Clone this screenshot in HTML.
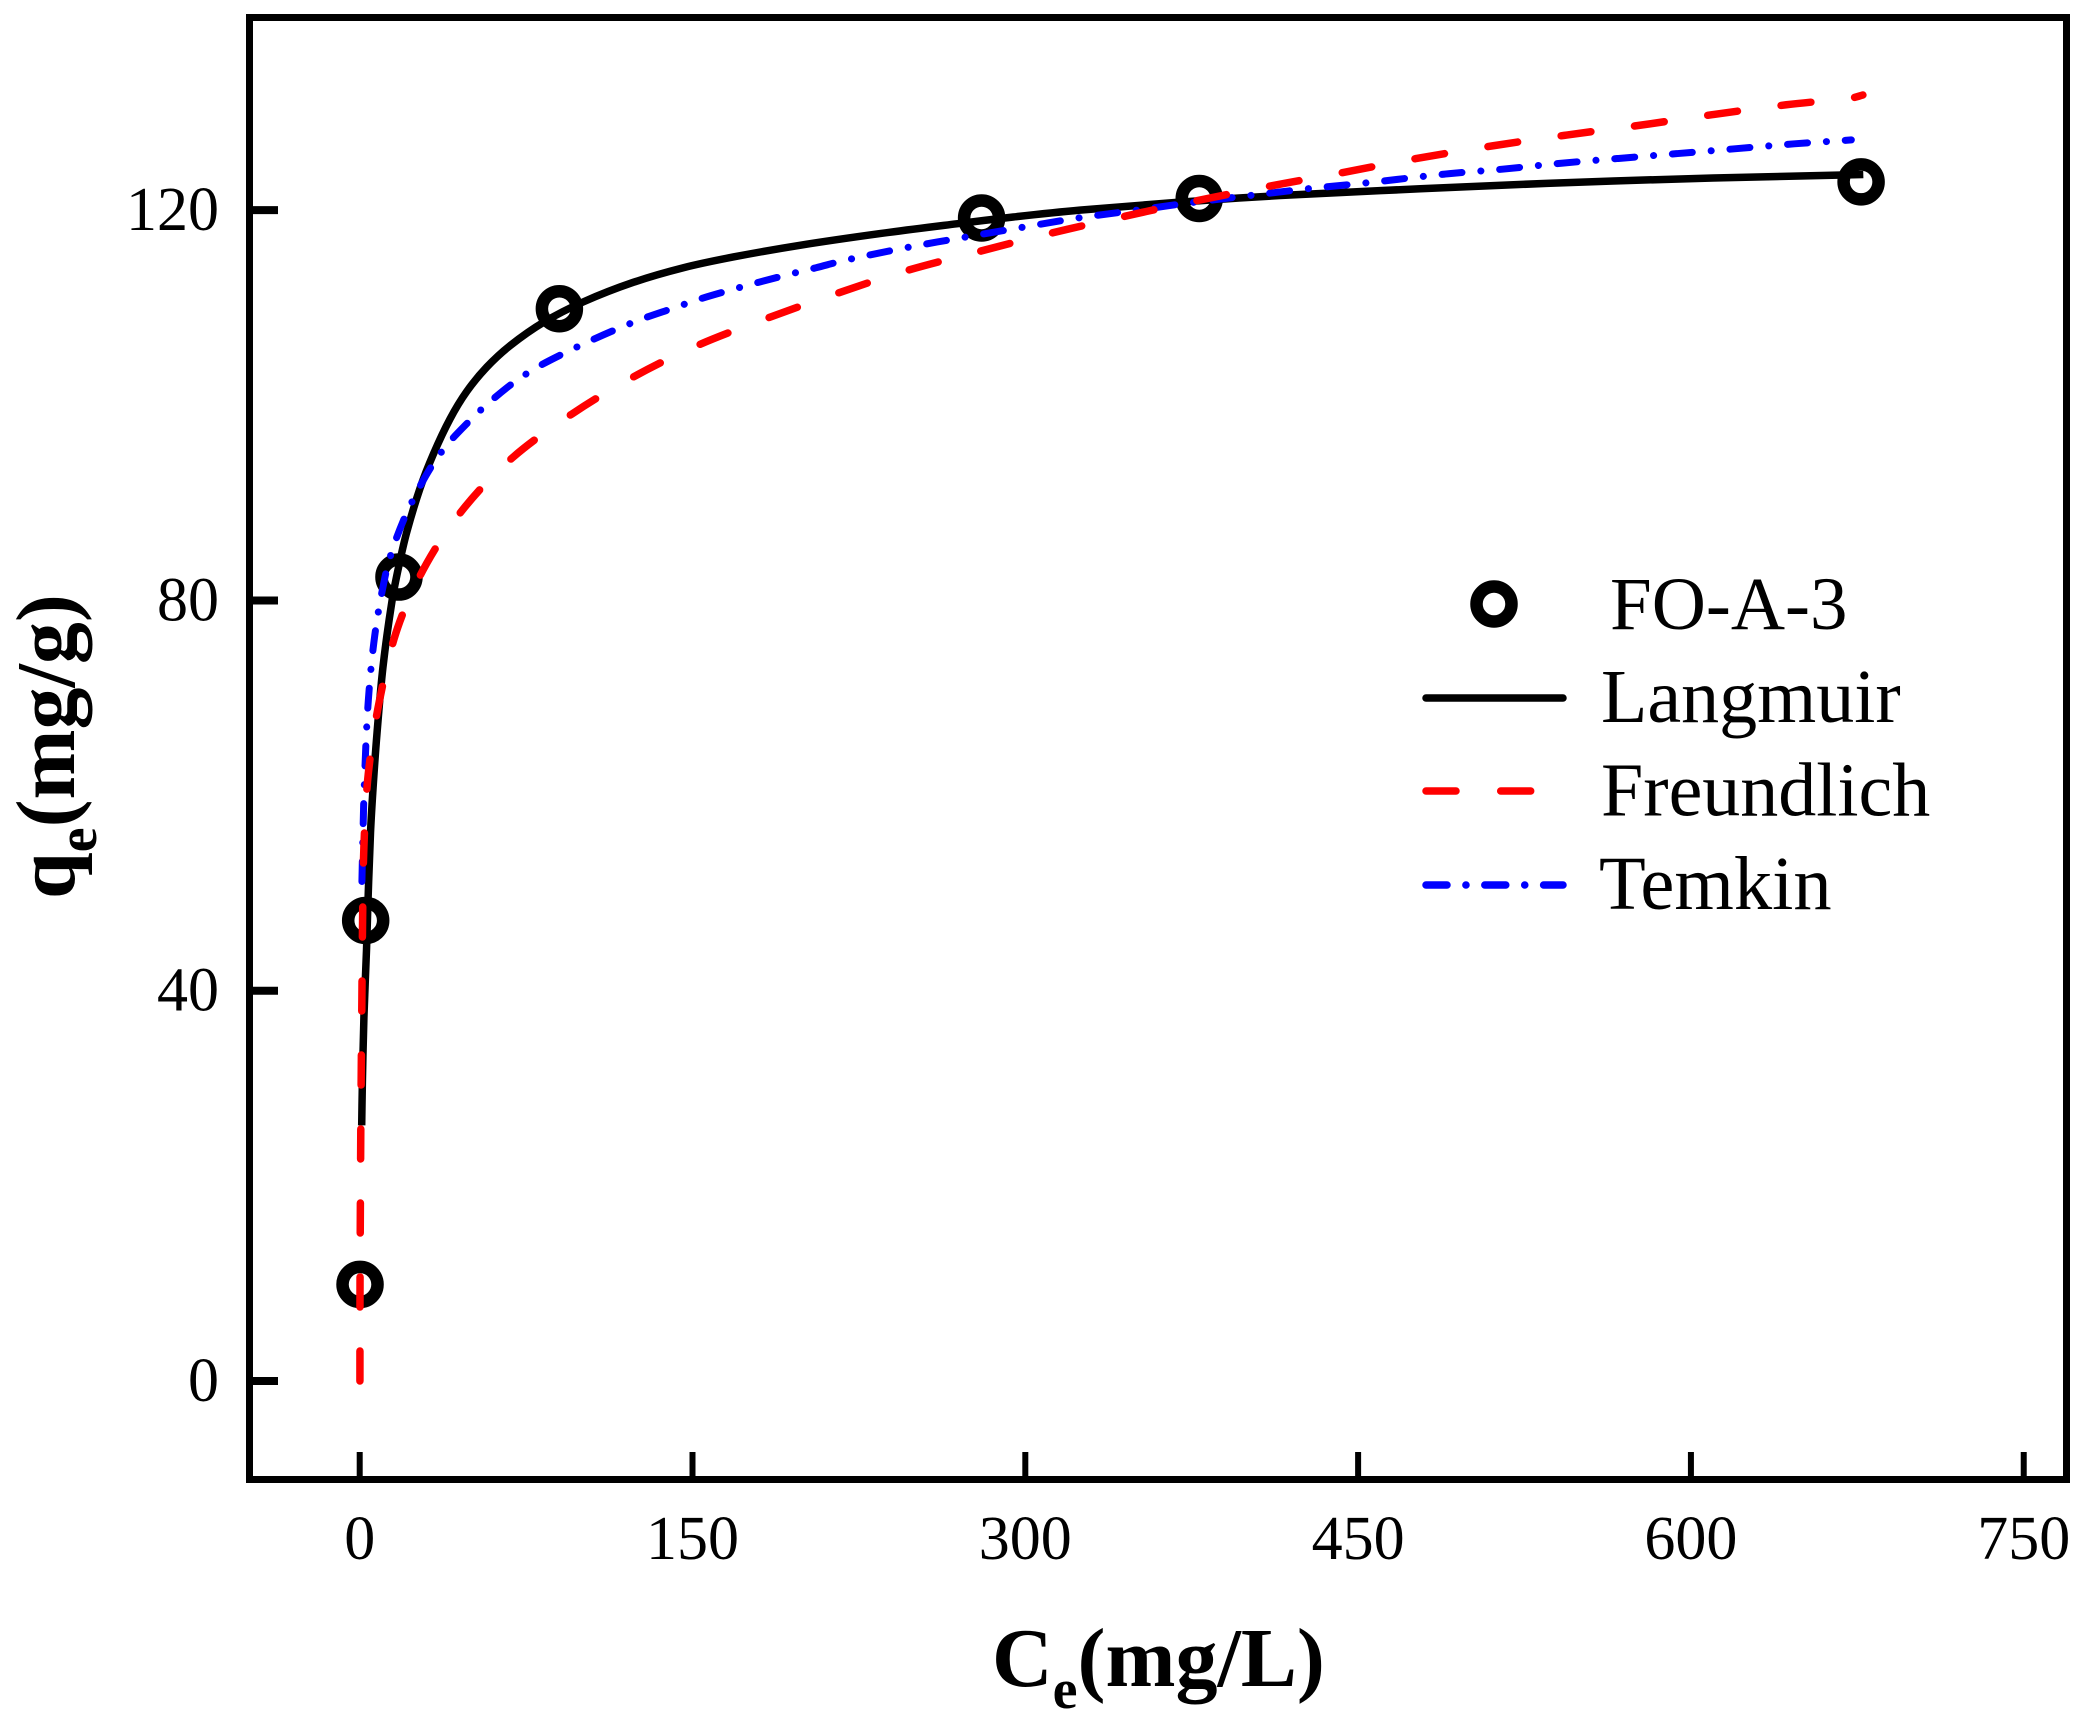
<!DOCTYPE html>
<html lang="en">
<head>
<meta charset="utf-8">
<title>FO-A-3 adsorption isotherm</title>
<style>
  html, body { margin: 0; padding: 0; background: #fff; }
  body { width: 2088px; height: 1726px; overflow: hidden; }
  svg { display: block; }
  text { font-family: "Liberation Serif", serif; fill: #000; }
</style>
</head>
<body>
<svg id="chart" xmlns="http://www.w3.org/2000/svg" width="2088" height="1726" viewBox="0 0 2088 1726">
  <rect x="0" y="0" width="2088" height="1726" fill="#fff"/>
  <g id="series-layer"></g>
  <rect x="249.5" y="17.5" width="1817" height="1462" fill="none" stroke="#000" stroke-width="7"/>
  <g id="axis-layer"></g>

  <text x="992" y="1686" font-size="84" font-weight="bold">C<tspan font-size="56" dy="22">e</tspan><tspan dy="-22">(mg/L)</tspan></text>
  <text transform="translate(74,899) rotate(-90)" font-size="84" font-weight="bold">q<tspan font-size="56" dy="22">e</tspan><tspan dy="-22">(mg/g)</tspan></text>

  <g>
    <g>
      <circle cx="1494" cy="604" r="17.5" fill="none" stroke="#000" stroke-width="12.5"/>
      <text x="1610" y="629" font-size="75">FO-A-3</text>
    </g>
    <g>
      <line x1="1426" y1="698" x2="1563" y2="698" stroke="#000" stroke-width="7.5" stroke-linecap="round"/>
      <text x="1601" y="722" font-size="76">Langmuir</text>
    </g>
    <g>
      <line x1="1426" y1="791" x2="1531" y2="791" stroke="#f00" stroke-width="7.5" stroke-linecap="round" stroke-dasharray="30 44.7"/>
      <text x="1601" y="815.5" font-size="76">Freundlich</text>
    </g>
    <g>
      <line x1="1426" y1="885" x2="1563" y2="885" stroke="#00f" stroke-width="7.5" stroke-linecap="round" stroke-dasharray="21 18.9 0.1 18.8"/>
      <text x="1599" y="909" font-size="76.5">Temkin</text>
    </g>
  </g>
</svg>

<script>
// Axis ticks
const xTickValues = [0, 150, 300, 450, 600, 750];
const xTickLabels = ["0", "150", "300", "450", "600", "750"];
const yTickValues = [0, 40, 80, 120];
const yTickLabels = ["0", "40", "80", "120"];

// Measured points (FO-A-3)
const pointsCe = [0.15, 2.7, 17.7, 90, 280.3, 378.4, 676.7];
const pointsQe = [9.9, 47.2, 82.4, 109.9, 119.2, 121.2, 122.9];

// Langmuir curve
const langmuirCe = [0.9, 1.2, 1.9, 3.07, 3.74, 4.87, 6.2, 7.8, 10.5, 14.6, 17.7, 21.2, 27.2, 33.2, 40.7, 48.2, 57.2, 67.7, 82.8, 100.8, 123.3, 145.9, 168.4, 198.4, 234.5, 269, 294.6, 324.6, 368.2, 414.8, 459.8, 535, 610, 668.5, 677.7];
const langmuirQe = [26.2, 30.5, 37.3, 44.2, 49.2, 56.2, 61.4, 66.4, 73.2, 80, 83.6, 87, 91.5, 95, 98.6, 101.4, 103.9, 106.1, 108.5, 110.6, 112.6, 114.1, 115.2, 116.4, 117.6, 118.6, 119.3, 120, 120.8, 121.5, 122, 122.75, 123.3, 123.6, 123.65];

// Freundlich curve
const freundlichCe = [0.1, 0.15, 0.45, 0.7, 1, 1.3, 1.9, 3.9, 8.8, 17.1, 30.2, 47.5, 69.2, 95.6, 123.3, 151.9, 183.4, 213, 245, 278.1, 310.8, 343.4, 375.7, 408.8, 441.8, 476.4, 510.9, 544, 577, 610, 643, 672.4, 677.5];
const freundlichQe = [0, 9.9, 24.2, 31.9, 39.6, 47.1, 54.8, 62.3, 69.6, 77.2, 83.8, 89.6, 94.7, 99.1, 102.9, 106.1, 108.9, 111.3, 113.7, 115.7, 117.6, 119.3, 120.9, 122.4, 123.8, 125.3, 126.6, 127.7, 128.7, 129.8, 130.8, 131.5, 131.8];

// Temkin curve
const temkinCe = [1, 1.4, 2.1, 3.9, 6.9, 11.4, 14.9, 19.7, 24.9, 31.7, 39.2, 48.2, 56.9, 69.2, 80, 91.8, 103.8, 115.8, 127.8, 140.6, 153.4, 166.9, 179.7, 193.2, 205.7, 219.5, 245, 272, 297.6, 323.9, 350.2, 375.7, 401.3, 427.5, 453.9, 489.2, 515, 541, 567.3, 594, 620.3, 646.6, 672.3];
const temkinQe = [51.2, 55.4, 61.3, 69.8, 76.6, 82.4, 85.3, 88.2, 90.7, 93.5, 95.9, 98.1, 100, 102.3, 103.9, 105.3, 106.6, 107.8, 108.9, 109.9, 110.9, 111.8, 112.6, 113.4, 114.1, 114.9, 116.1, 117.2, 118.2, 119.2, 120, 120.8, 121.5, 122.2, 122.8, 123.7, 124.2, 124.8, 125.3, 125.8, 126.3, 126.8, 127.2];

const SVG_NS = "http://www.w3.org/2000/svg";

function xScale(ce) {
  return 359.7 + ce * 2.2187;
}
function yScale(qe) {
  return 1381 - qe * 9.757;
}

// Chord-length spline: tangents scale with segment length so uneven sampling does not wobble
function smoothPath(ces, qes) {
  const pts = ces.map((c, i) => [xScale(c), yScale(qes[i])]);
  const dist = (a, b) => Math.hypot(b[0] - a[0], b[1] - a[1]);
  const tangent = (i) => {
    const a = pts[Math.max(i - 1, 0)];
    const b = pts[Math.min(i + 1, pts.length - 1)];
    const len = dist(a, b) || 1;
    return [(b[0] - a[0]) / len, (b[1] - a[1]) / len];
  };
  let d = "M" + pts[0][0].toFixed(2) + "," + pts[0][1].toFixed(2);
  for (let i = 0; i < pts.length - 1; i++) {
    const p1 = pts[i];
    const p2 = pts[i + 1];
    const seg = dist(p1, p2) / 3;
    const t1 = tangent(i);
    const t2 = tangent(i + 1);
    d += "C" + (p1[0] + t1[0] * seg).toFixed(2) + "," + (p1[1] + t1[1] * seg).toFixed(2) + " " + (p2[0] - t2[0] * seg).toFixed(2) + "," + (p2[1] - t2[1] * seg).toFixed(2) + " " + p2[0].toFixed(2) + "," + p2[1].toFixed(2);
  }
  return d;
}

const seriesLayer = document.getElementById("series-layer");
const axisLayer = document.getElementById("axis-layer");

// Markers sit underneath the fitted curves
pointsCe.forEach((ce, i) => {
  const el = document.createElementNS(SVG_NS, "circle");
  
  
  el.setAttribute("cx", xScale(ce));
  el.setAttribute("cy", yScale(pointsQe[i]));
  el.setAttribute("r", 17.5);
  el.setAttribute("fill", "none");
  el.setAttribute("stroke", "#000");
  el.setAttribute("stroke-width", 12.5);
  seriesLayer.appendChild(el);
});

const langmuirPath = document.createElementNS(SVG_NS, "path");


langmuirPath.setAttribute("d", smoothPath(langmuirCe, langmuirQe));
langmuirPath.setAttribute("fill", "none");
langmuirPath.setAttribute("stroke", "#000");
langmuirPath.setAttribute("stroke-width", 7.5);
seriesLayer.appendChild(langmuirPath);

const temkinPath = document.createElementNS(SVG_NS, "path");


temkinPath.setAttribute("d", smoothPath(temkinCe, temkinQe));
temkinPath.setAttribute("fill", "none");
temkinPath.setAttribute("stroke", "#00f");
temkinPath.setAttribute("stroke-width", 7);
temkinPath.setAttribute("stroke-linecap", "round");
temkinPath.setAttribute("stroke-dasharray", "20 18.9 0.1 18.8");
seriesLayer.appendChild(temkinPath);

const freundlichPath = document.createElementNS(SVG_NS, "path");


freundlichPath.setAttribute("d", smoothPath(freundlichCe, freundlichQe));
freundlichPath.setAttribute("fill", "none");
freundlichPath.setAttribute("stroke", "#f00");
freundlichPath.setAttribute("stroke-width", 7.5);
freundlichPath.setAttribute("stroke-linecap", "round");
freundlichPath.setAttribute("stroke-dasharray", "30 44");
seriesLayer.appendChild(freundlichPath);

// X axis ticks and labels
xTickValues.forEach((v, i) => {
  const tick = document.createElementNS(SVG_NS, "line");
  
  
  tick.setAttribute("x1", xScale(v));
  tick.setAttribute("x2", xScale(v));
  tick.setAttribute("y1", 1479);
  tick.setAttribute("y2", 1452);
  tick.setAttribute("stroke", "#000");
  tick.setAttribute("stroke-width", 6);
  axisLayer.appendChild(tick);

  const label = document.createElementNS(SVG_NS, "text");
  
  
  label.setAttribute("x", xScale(v));
  label.setAttribute("y", 1559);
  label.setAttribute("font-size", 62);
  label.setAttribute("text-anchor", "middle");
  label.textContent = xTickLabels[i];
  axisLayer.appendChild(label);
});

// Y axis ticks and labels
yTickValues.forEach((v, i) => {
  const tick = document.createElementNS(SVG_NS, "line");
  
  
  tick.setAttribute("x1", 250);
  tick.setAttribute("x2", 278);
  tick.setAttribute("y1", yScale(v));
  tick.setAttribute("y2", yScale(v));
  tick.setAttribute("stroke", "#000");
  tick.setAttribute("stroke-width", 8);
  axisLayer.appendChild(tick);

  const label = document.createElementNS(SVG_NS, "text");
  
  
  label.setAttribute("x", 219);
  label.setAttribute("y", yScale(v) + 20);
  label.setAttribute("font-size", 62);
  label.setAttribute("text-anchor", "end");
  label.textContent = yTickLabels[i];
  axisLayer.appendChild(label);
});
</script>
</body>
</html>
